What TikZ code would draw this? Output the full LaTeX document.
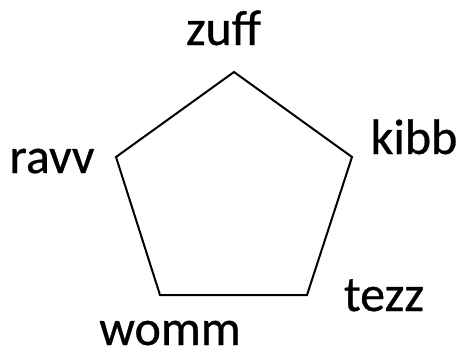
\documentclass[tikz,border=0pt]{standalone}
\usepackage{fontspec}
\setmainfont[FakeBold=0.6]{Carlito}
\begin{document}
\begin{tikzpicture}[x=1pt,y=1pt,
  lbl/.style={anchor=base,inner sep=0pt,font=\fontsize{50}{56}\selectfont},
  edge/.style={draw=black,line width=2pt,line join=miter}]
\useasboundingbox (0,0) rectangle (460,349);
\coordinate (t) at (234,277);
\coordinate (r) at (352,192);
\coordinate (br) at (307,54);
\coordinate (bl) at (160,54);
\coordinate (l) at (116,192);
\draw[edge] (t) -- (r) -- (br) -- (bl) -- (l) -- cycle;
\node[lbl] (zuff) at (223.5,304) {zuff};
\node[lbl] (kibb) at (414,195) {kibb};
\node[lbl] (tezz) at (384,38) {tezz};
\node[lbl] (womm) at (170,4) {womm};
\node[lbl] (ravv) at (52,176) {ravv};
\end{tikzpicture}
\end{document}
